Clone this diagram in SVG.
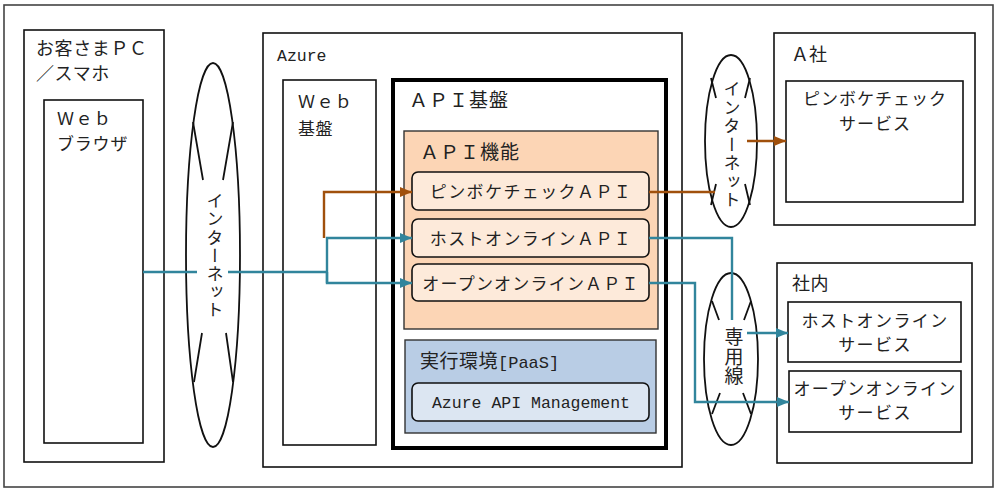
<svg xmlns="http://www.w3.org/2000/svg" width="1000" height="494" viewBox="0 0 1000 494">
<style>
  .box { fill: #fff; stroke: #111; stroke-width: 1.6; }
  .frame { fill: #fff; stroke: #444; stroke-width: 1.6; }
  .jp { font-family: "Liberation Serif", "Noto Sans CJK JP", serif; fill: #222; font-size: 17px; letter-spacing: 1.4px; }
  .jpl { font-size: 19px; letter-spacing: 1px; }
  .mono { font-family: "Liberation Mono", "Noto Sans CJK JP", monospace; fill: #222; }
  .mid { text-anchor: middle; }
  .vert { writing-mode: vertical-rl; text-anchor: middle; }
  .net { fill: #fff; stroke: #111; stroke-width: 1.8; }
  .netl { fill: none; stroke: #111; stroke-width: 1.8; }
  .brown { fill: none; stroke: #A0500C; stroke-width: 2.4; }
  .blue { fill: none; stroke: #31859C; stroke-width: 2.4; }
</style>
<defs>
  <marker id="ab" markerUnits="userSpaceOnUse" markerWidth="12" markerHeight="10" refX="12" refY="5" orient="auto">
    <path d="M0,0 L12,5 L0,10 Z" fill="#A0500C"/>
  </marker>
  <marker id="ag" markerUnits="userSpaceOnUse" markerWidth="12" markerHeight="10" refX="12" refY="5" orient="auto">
    <path d="M0,0 L12,5 L0,10 Z" fill="#31859C"/>
  </marker>
</defs>

<rect id="outer-frame" x="4" y="5" width="989" height="482" class="frame"/>

<g id="client">
  <rect x="24" y="30" width="140" height="432" class="box"/>
  <text x="36" y="55" class="jp" style="font-size:18px;letter-spacing:0.6px">お客さまＰＣ</text>
  <text x="36" y="80" class="jp" style="font-size:18px;letter-spacing:0.6px">／スマホ</text>
</g>
<g id="web-browser">
  <rect x="44" y="100" width="99" height="343" class="box"/>
  <text x="57" y="125" class="jp">Ｗｅｂ</text>
  <text x="57" y="150" class="jp" style="letter-spacing:0.8px">ブラウザ</text>
</g>

<g id="internet-left">
  <ellipse cx="213" cy="255" rx="27" ry="192" class="net"/>
  <path d="M193,122 L203,180 M233,122 L223,180 M202,333 L194,382 M226,333 L233,382" class="netl"/>
  <text x="213" y="256" class="jp vert" style="letter-spacing:1.2px">インターネット</text>
</g>

<g id="azure">
  <rect x="263" y="33" width="419" height="434" class="box"/>
  <text x="277" y="61" class="mono" style="font-size:16.5px">Azure</text>
</g>
<g id="web-kiban">
  <rect x="283" y="80" width="93" height="365" class="box"/>
  <text x="298" y="108" class="jp">Ｗｅｂ</text>
  <text x="298" y="135" class="jp" style="letter-spacing:0.5px">基盤</text>
</g>
<g id="api-kiban">
  <rect x="393" y="80" width="273" height="368" fill="#fff" stroke="#000" stroke-width="4"/>
  <text x="409" y="107" class="jp jpl">ＡＰＩ基盤</text>
</g>
<g id="api-kinou">
  <rect x="404" y="131" width="254" height="198" fill="#FCD5B5" stroke="#333" stroke-width="1.4"/>
  <text x="420" y="159" class="jp jpl">ＡＰＩ機能</text>
</g>
<g id="pinboke-api">
  <rect x="412" y="172" width="237" height="38" rx="6" fill="#FDEADA" stroke="#111" stroke-width="1.6"/>
  <text x="531" y="198" class="jp mid">ピンボケチェックＡＰＩ</text>
</g>
<g id="host-api">
  <rect x="412" y="219" width="237" height="38" rx="6" fill="#FDEADA" stroke="#111" stroke-width="1.6"/>
  <text x="531" y="245" class="jp mid">ホストオンラインＡＰＩ</text>
</g>
<g id="open-api">
  <rect x="412" y="264" width="237" height="37" rx="6" fill="#FDEADA" stroke="#111" stroke-width="1.6"/>
  <text x="531" y="290" class="jp mid" style="letter-spacing:1.2px">オープンオンラインＡＰＩ</text>
</g>
<g id="runtime">
  <rect x="405" y="340" width="251" height="93" fill="#B9CDE5" stroke="#333" stroke-width="1.4"/>
  <text x="420" y="368" class="jp" style="font-size:19px;letter-spacing:0.5px">実行環境<tspan class="mono" style="font-size:17px;letter-spacing:0">[PaaS]</tspan></text>
</g>
<g id="apim">
  <rect x="412" y="383" width="237" height="38" rx="6" fill="#DCE6F2" stroke="#111" stroke-width="1.6"/>
  <text x="531" y="408" class="mono mid" style="font-size:16.5px">Azure API Management</text>
</g>

<g id="internet-right">
  <ellipse cx="731" cy="141" rx="26" ry="86" class="net"/>
  <path d="M711,78 L716,98 M750,78 L745,98 M716,184 L711,205 M745,184 L750,205" class="netl"/>
  <text x="730" y="145" class="jp vert" style="letter-spacing:1.5px">インターネット</text>
</g>
<g id="senyousen">
  <ellipse cx="731" cy="359" rx="27" ry="86" class="net"/>
  <path d="M712,301 L719,320 M751,301 L744,320 M720,393 L712,414 M743,393 L751,414" class="netl"/>
  <text x="732" y="357" class="jp vert" style="font-size:19px;letter-spacing:0.5px">専用線</text>
</g>

<g id="a-company">
  <rect x="774" y="33" width="201" height="192" class="box"/>
  <text x="791" y="61" class="jp" style="font-size:18px;letter-spacing:0">Ａ社</text>
</g>
<g id="pinboke-service">
  <rect x="786" y="81" width="177" height="121" class="box"/>
  <text x="875" y="105" class="jp mid" style="letter-spacing:1px">ピンボケチェック</text>
  <text x="875" y="130" class="jp mid" style="letter-spacing:1px">サービス</text>
</g>
<g id="shanai">
  <rect x="777" y="263" width="195" height="200" class="box"/>
  <text x="792" y="290" class="jp" style="font-size:18px;letter-spacing:0.5px">社内</text>
</g>
<g id="host-service">
  <rect x="788" y="302" width="173" height="60" class="box"/>
  <text x="875" y="327" class="jp mid">ホストオンライン</text>
  <text x="875" y="351" class="jp mid">サービス</text>
</g>
<g id="open-service">
  <rect x="789" y="371" width="172" height="61" class="box"/>
  <text x="875" y="395" class="jp mid" style="letter-spacing:1.2px">オープンオンライン</text>
  <text x="875" y="419" class="jp mid">サービス</text>
</g>

<g id="connectors">
  <path d="M143,272 L197,272" class="blue"/>
  <path d="M228,272 L327,272" class="blue"/>
  <path d="M327,283 L327,238 L412,238" class="blue" marker-end="url(#ag)"/>
  <path d="M327,272 L327,283 L412,283" class="blue" marker-end="url(#ag)"/>
  <path d="M324,238 L324,192 L412,192" class="brown" marker-end="url(#ab)"/>
  <path d="M649,192 L715,192" class="brown"/>
  <path d="M747,141 L786,141" class="brown" marker-end="url(#ab)"/>
  <path d="M649,238 L732,238 L732,320" class="blue"/>
  <path d="M747,333 L788,333" class="blue" marker-end="url(#ag)"/>
  <path d="M649,283 L695,283 L695,402 L789,402" class="blue" marker-end="url(#ag)"/>
</g>
</svg>
